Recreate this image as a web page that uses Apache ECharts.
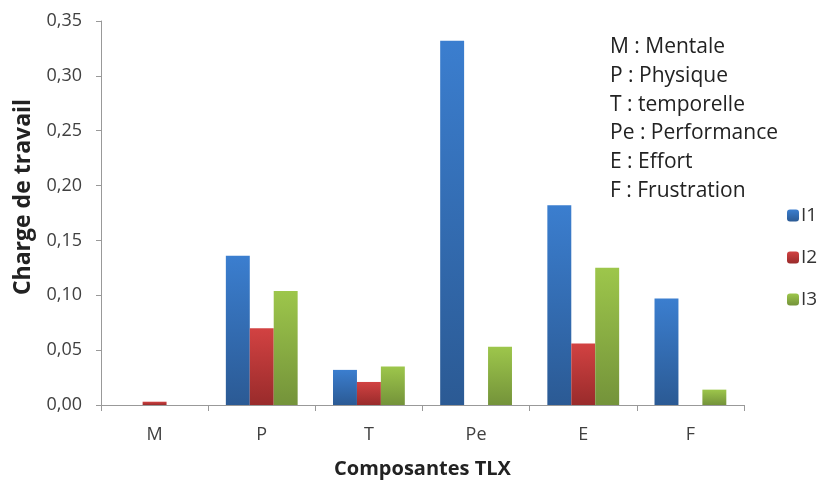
<!DOCTYPE html>
<html><head><meta charset="utf-8">
<script src="https://cdn.jsdelivr.net/npm/echarts@6/dist/echarts.min.js"></script>
<style>html,body{margin:0;padding:0;background:#fff}#c{width:821px;height:484px}</style>
</head><body><div id="c"></div>
<script>
const categories = ['M','P','T','Pe','E','F'];
const seriesNames = ['I1','I2','I3'];
const valuesI1 = [0, 0.136, 0.032, 0.332, 0.182, 0.097];
const valuesI2 = [0.003, 0.070, 0.021, 0, 0.056, 0];
const valuesI3 = [0, 0.104, 0.035, 0.053, 0.125, 0.014];
const yTicks = { min: 0, max: 0.35, interval: 0.05 };
const notes = ['M : Mentale','P : Physique','T : temporelle','Pe : Performance','E : Effort','F : Frustration'];

const FONT = '"Open Sans", "Liberation Sans", sans-serif';
function grad(top, bottom){
  return new echarts.graphic.LinearGradient(0,0,0,1,[{offset:0,color:top},{offset:1,color:bottom}]);
}
const colors = [grad('#3b7ecf','#2b5a94'), grad('#d24242','#992b2b'), grad('#9dc64b','#74933a')];
const data = [valuesI1, valuesI2, valuesI3];

const chart = echarts.init(document.getElementById('c'));
chart.setOption({
  animation:false,
  textStyle:{fontFamily:FONT},
  grid:{left:101,right:77,top:21,bottom:76},
  legend:{
    orient:'vertical', left:782, top:201, itemWidth:12, itemHeight:12, itemGap:23,
    data:seriesNames,
    textStyle:{fontSize:19,color:'#333',fontFamily:FONT,padding:[0,0,0,-3]}
  },
  xAxis:{
    type:'category', data:categories,
    name:'Composantes TLX', nameLocation:'middle', nameGap:54,
    nameTextStyle:{fontSize:20,fontWeight:'bold',color:'#222',fontFamily:FONT},
    axisLine:{lineStyle:{color:'#999'}},
    axisTick:{show:true,length:6,lineStyle:{color:'#999'}},
    axisLabel:{fontSize:18,color:'#404040',margin:21,fontFamily:FONT}
  },
  yAxis:{
    type:'value', min:yTicks.min, max:yTicks.max, interval:yTicks.interval,
    axisLine:{show:true,lineStyle:{color:'#999'}},
    axisTick:{show:true,length:5,lineStyle:{color:'#999'}},
    splitLine:{show:false},
    axisLabel:{fontSize:18,color:'#404040',margin:19,fontFamily:FONT,
      formatter:v=>v.toFixed(2).replace('.',',')}
  },
  graphic:[{
    type:'text', left:610, top:33,
    style:{text:notes.join('\n'), fontSize:21, lineHeight:28.7, fill:'#222', fontFamily:FONT}
  },{
    type:'text', x:23, y:197, rotation:Math.PI/2,
    style:{text:'Charge de travail', fontSize:23, fontWeight:'bold', fill:'#222', fontFamily:FONT,
      align:'center', verticalAlign:'middle'}
  }],
  series:seriesNames.map((n,i)=>({
    name:n, type:'bar', data:data[i], barGap:'0%', barCategoryGap:'33%',
    itemStyle:{color:colors[i]}
  }))
});
</script></body></html>
